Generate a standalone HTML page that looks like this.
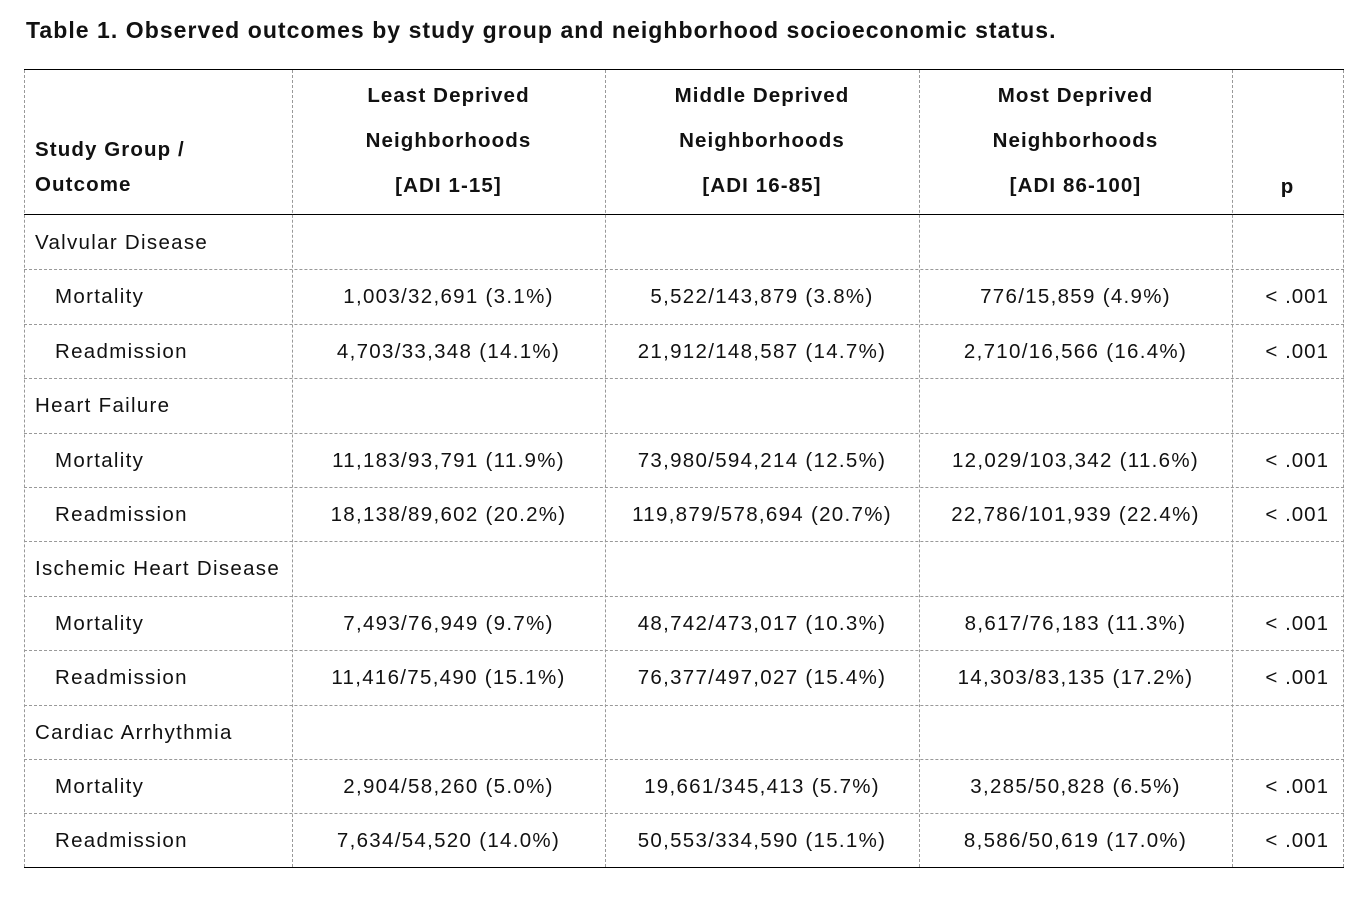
<!DOCTYPE html><html><head><style>
body{margin:0;width:1366px;height:906px;background:#fff;font-family:"Liberation Sans",sans-serif;color:#111;position:relative;overflow:hidden}
.t{position:absolute;left:26px;top:17px;font-size:23px;font-weight:bold;letter-spacing:1.05px}
.h{position:absolute;height:0;border-top:1px dashed #999}
.v{position:absolute;width:0;border-left:1px dashed #999}
.s{position:absolute;height:0;border-top:1.5px solid #000}
.c{position:absolute;font-size:20.5px;white-space:nowrap;line-height:20px;letter-spacing:1.3px}
.b{font-weight:bold;letter-spacing:1.1px}
</style></head><body>
<div class="t">Table 1. Observed outcomes by study group and neighborhood socioeconomic status.</div>
<div class="s" style="left:24px;width:1320px;top:69px"></div>
<div class="s" style="left:24px;width:1320px;top:214px"></div>
<div class="s" style="left:24px;width:1320px;top:867px"></div>
<div class="v" style="left:24px;top:70px;height:797px"></div>
<div class="v" style="left:292px;top:70px;height:797px"></div>
<div class="v" style="left:605px;top:70px;height:797px"></div>
<div class="v" style="left:919px;top:70px;height:797px"></div>
<div class="v" style="left:1232px;top:70px;height:797px"></div>
<div class="v" style="left:1343px;top:70px;height:797px"></div>
<div id="rows"></div>
<div class="c b" style="left:35px;top:140px">Study Group /</div>
<div class="c b" style="left:35px;top:175px">Outcome</div>
<div class="c b" style="left:292px;width:313px;text-align:center;top:86px">Least Deprived</div>
<div class="c b" style="left:292px;width:313px;text-align:center;top:131px">Neighborhoods</div>
<div class="c b" style="left:292px;width:313px;text-align:center;top:176px">[ADI 1-15]</div>
<div class="c b" style="left:605px;width:314px;text-align:center;top:86px">Middle Deprived</div>
<div class="c b" style="left:605px;width:314px;text-align:center;top:131px">Neighborhoods</div>
<div class="c b" style="left:605px;width:314px;text-align:center;top:176px">[ADI 16-85]</div>
<div class="c b" style="left:919px;width:313px;text-align:center;top:86px">Most Deprived</div>
<div class="c b" style="left:919px;width:313px;text-align:center;top:131px">Neighborhoods</div>
<div class="c b" style="left:919px;width:313px;text-align:center;top:176px">[ADI 86-100]</div>
<div class="c b" style="left:1232px;width:111px;text-align:center;top:177px">p</div>
<script>
var R=[["Valvular Disease"],["Mortality","1,003/32,691 (3.1%)","5,522/143,879 (3.8%)","776/15,859 (4.9%)"],["Readmission","4,703/33,348 (14.1%)","21,912/148,587 (14.7%)","2,710/16,566 (16.4%)"],
["Heart Failure"],["Mortality","11,183/93,791 (11.9%)","73,980/594,214 (12.5%)","12,029/103,342 (11.6%)"],["Readmission","18,138/89,602 (20.2%)","119,879/578,694 (20.7%)","22,786/101,939 (22.4%)"],
["Ischemic Heart Disease"],["Mortality","7,493/76,949 (9.7%)","48,742/473,017 (10.3%)","8,617/76,183 (11.3%)"],["Readmission","11,416/75,490 (15.1%)","76,377/497,027 (15.4%)","14,303/83,135 (17.2%)"],
["Cardiac Arrhythmia"],["Mortality","2,904/58,260 (5.0%)","19,661/345,413 (5.7%)","3,285/50,828 (6.5%)"],["Readmission","7,634/54,520 (14.0%)","50,553/334,590 (15.1%)","8,586/50,619 (17.0%)"]];
var h="",X=[292,605,919,1232];
R.forEach(function(r,i){var top=215+i*54.4;if(i>0)h+='<div class="h" style="left:24px;width:1320px;top:'+Math.round(top)+'px"></div>';
var ty=Math.round(top+18);
if(r.length==1)h+='<div class="c" style="left:35px;top:'+ty+'px">'+r[0]+'</div>';
else{h+='<div class="c" style="left:55px;top:'+ty+'px">'+r[0]+'</div>';
for(var k=1;k<4;k++)h+='<div class="c" style="left:'+X[k-1]+'px;width:'+(X[k]-X[k-1])+'px;text-align:center;top:'+ty+'px">'+r[k]+'</div>';
h+='<div class="c" style="left:1232px;width:97px;text-align:right;top:'+ty+'px;letter-spacing:1px">&lt;&nbsp;.001</div>';}});
document.getElementById("rows").innerHTML=h;
</script>
</body></html>
